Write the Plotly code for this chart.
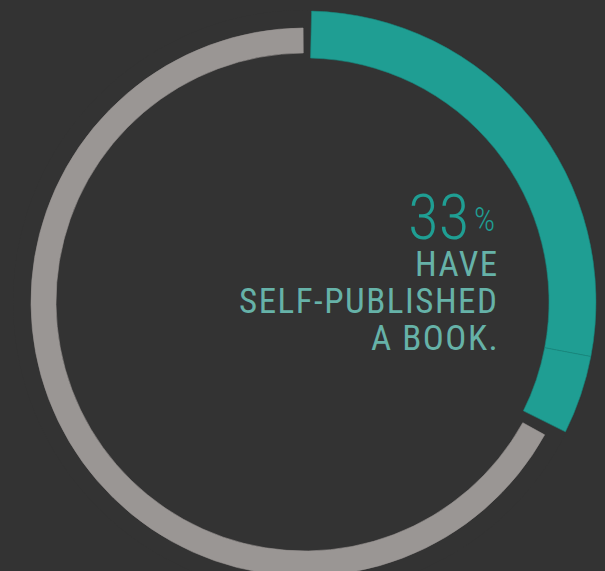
import plotly.graph_objects as go

# ---- data ----
segment_labels = ["Self-published (a)", "Self-published (b)", "Not self-published"]
segment_values = [28, 5, 67]          # percent
headline_value = "33"
headline_unit = "%"
caption_lines = ["HAVE", "SELF-PUBLISHED", "A BOOK."]

# ---- style ----
BG = "#333333"
TEAL = "#1f9e93"
GRAY = "#9a9694"
CAPTION = "#66b2a8"
W, H = 605, 600
CX, CY, RMAX = 305, 302, 292
seg_colors = [TEAL, TEAL, GRAY]
seg_inner = [244, 244, 249]
seg_outer = [291, 291, 274]
pad_start = [1.3, 0.0, 0.2]
pad_end = [0.0, 2.3, 0.4]

thetas, widths, bases, rs = [], [], [], []
cum = 0
for v, ps, pe, ri, ro in zip(segment_values, pad_start, pad_end, seg_inner, seg_outer):
    a0 = cum * 3.6 + ps
    a1 = (cum + v) * 3.6 - pe
    thetas.append((a0 + a1) / 2)
    widths.append(a1 - a0)
    bases.append(ri)
    rs.append(ro - ri)
    cum += v

fig = go.Figure()
fig.add_trace(go.Barpolar(
    theta=thetas, width=widths, base=bases, r=rs,
    marker=dict(color=seg_colors, line=dict(color=["#17867c", "#17867c", GRAY], width=0.6)),
    text=segment_labels, hoverinfo="text", showlegend=False,
))

fig.update_layout(
    width=W, height=H,
    margin=dict(l=0, r=0, t=0, b=0),
    paper_bgcolor=BG, plot_bgcolor=BG,
    showlegend=False,
    polar=dict(
        bgcolor=BG,
        domain=dict(x=[(CX - RMAX) / W, (CX + RMAX) / W],
                    y=[(H - CY - RMAX) / H, (H - CY + RMAX) / H]),
        radialaxis=dict(range=[0, RMAX], visible=False, showgrid=False),
        angularaxis=dict(rotation=90, direction="clockwise", visible=False,
                         showgrid=False, thetaunit="degrees"),
    ),
)

FONT = "Roboto"
COND = "font-stretch:condensed"

def py(ypx):
    return (H - ypx) / H

fig.add_annotation(text=f"<span style='{COND}'>{headline_value}</span>", xref="paper", yref="paper",
                   x=471 / W, y=py(218), xanchor="right", yanchor="middle",
                   showarrow=False, font=dict(family=FONT, size=63, color=TEAL, weight=300))
fig.add_annotation(text=f"<span style='{COND}'>{headline_unit}</span>", xref="paper", yref="paper",
                   x=472 / W, y=py(219.5), xanchor="left", yanchor="middle",
                   showarrow=False, font=dict(family=FONT, size=33, color=TEAL, weight=300))
for line, ymid in zip(caption_lines, [264.5, 301, 338]):
    fig.add_annotation(text=f"<span style='{COND};letter-spacing:1.5px'>{line}</span>",
                       xref="paper", yref="paper",
                       x=501 / W, y=py(ymid), xanchor="right", yanchor="middle",
                       showarrow=False, font=dict(family=FONT, size=35, color=CAPTION))

fig.write_html("out.html", config={"displayModeBar": False},
               post_script="document.body.style.margin='0';document.body.style.overflow='hidden';document.documentElement.style.overflow='hidden';document.body.style.background='#333333';")
